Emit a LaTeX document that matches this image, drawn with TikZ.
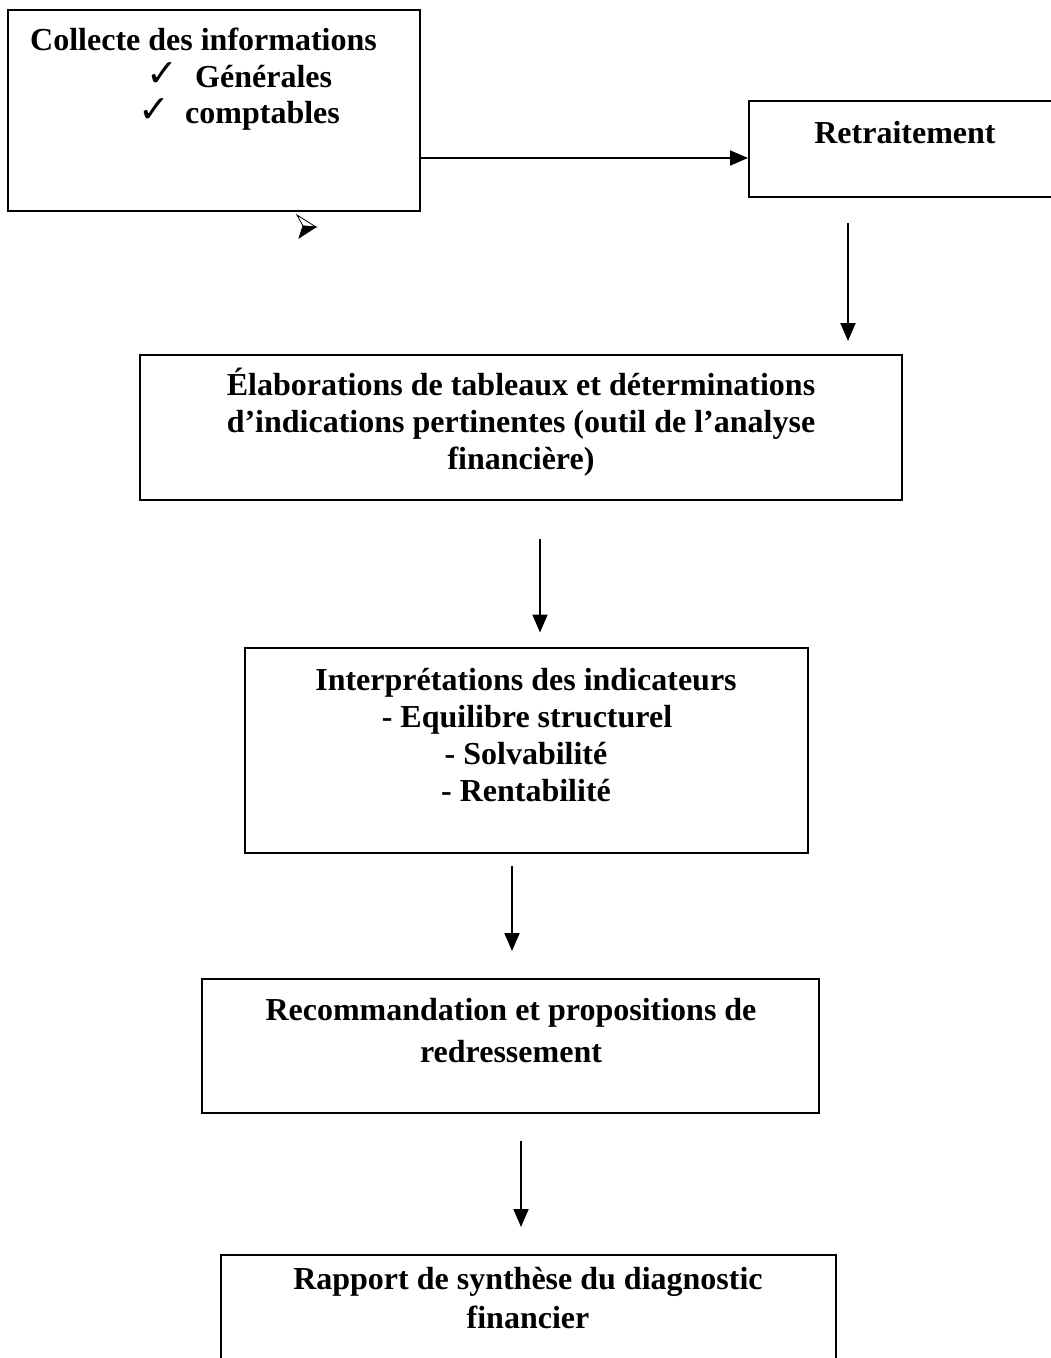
\documentclass[tikz,border=0pt]{standalone}
\usepackage{fontspec}
\setmainfont{Liberation Serif}
\newfontfamily\symfont{DejaVu Sans}
\usetikzlibrary{arrows.meta}
\begin{document}
\begin{tikzpicture}[x=1pt,y=-1pt,
  box/.style={draw, line width=2pt, rectangle, inner sep=0pt},
  txt/.style={anchor=base, inner sep=0pt, font=\fontsize{32}{37}\selectfont\bfseries},
  tick/.style={anchor=base west, inner sep=0pt, font=\symfont\fontsize{38}{40}\selectfont},
  arr/.style={line width=2pt, -{Triangle[length=18pt,width=15pt]}}]
\useasboundingbox (0,0) rectangle (1051,1358);

% boxes
\node[box, minimum width=412pt, minimum height=201pt] (coll) at (214,110.5) {};
\node[box, minimum width=312pt, minimum height=96pt] (retr) at (905,149) {};
\node[box, minimum width=762pt, minimum height=145pt] (elab) at (521,427.5) {};
\node[box, minimum width=563pt, minimum height=205pt] (interp) at (526.5,750) {};
\node[box, minimum width=617pt, minimum height=134pt] (recom) at (510.5,1046) {};
\node[box, minimum width=615pt, minimum height=140pt] (rapp) at (528.5,1325) {};

% texts
\node[txt, anchor=base west] (t1) at (30,50) {Collecte des informations};
\node[tick] (c1) at (146,86) {✓};
\node[txt, anchor=base west] (t2) at (195,87) {Générales};
\node[tick] (c2) at (138,122) {✓};
\node[txt, anchor=base west] (t3) at (185,123) {comptables};

% bullet arrowhead under the first box: outlined upper half, filled lower half
\coordinate (bt) at (316,227);
\coordinate (bn) at (303,226);
\filldraw[line width=0.8pt, fill=white] (297,215) -- (bt) -- (bn) -- cycle;
\filldraw[line width=0.8pt, fill=black] (bn) -- (bt) -- (299,238) -- cycle;

\node[txt] (r1) at (905,143) {Retraitement};

\node[txt] (e1) at (521,395) {Élaborations de tableaux et déterminations};
\node[txt] (e2) at (521,432) {d’indications pertinentes (outil de l’analyse};
\node[txt] (e3) at (521,469) {financière)};

\node[txt] (i1) at (526,690) {Interprétations des indicateurs};
\node[txt] (i2) at (527,727) {- Equilibre structurel};
\node[txt] (i3) at (526,764) {- Solvabilité};
\node[txt] (i4) at (526,801) {- Rentabilité};

\node[txt] (m1) at (511,1020) {Recommandation et propositions de};
\node[txt] (m2) at (511,1062) {redressement};

\node[txt] (p1) at (528,1289) {Rapport de synthèse du diagnostic};
\node[txt] (p2) at (528,1328) {financier};

% connectors
\coordinate (hy) at (0,158);
\coordinate (v1) at (848,0);
\coordinate (v2) at (540,0);
\coordinate (v3) at (512,0);
\coordinate (v4) at (521,0);
\draw[arr] (coll.east |- hy) -- (retr.west |- hy);
\draw[arr, shorten <=25pt, shorten >=13pt] (retr.south -| v1) -- (elab.north -| v1);
\draw[arr, shorten <=38pt, shorten >=14pt] (elab.south -| v2) -- (interp.north -| v2);
\draw[arr, shorten <=12pt, shorten >=27pt] (interp.south -| v3) -- (recom.north -| v3);
\draw[arr, shorten <=27pt, shorten >=27pt] (recom.south -| v4) -- (rapp.north -| v4);
\end{tikzpicture}
\end{document}
